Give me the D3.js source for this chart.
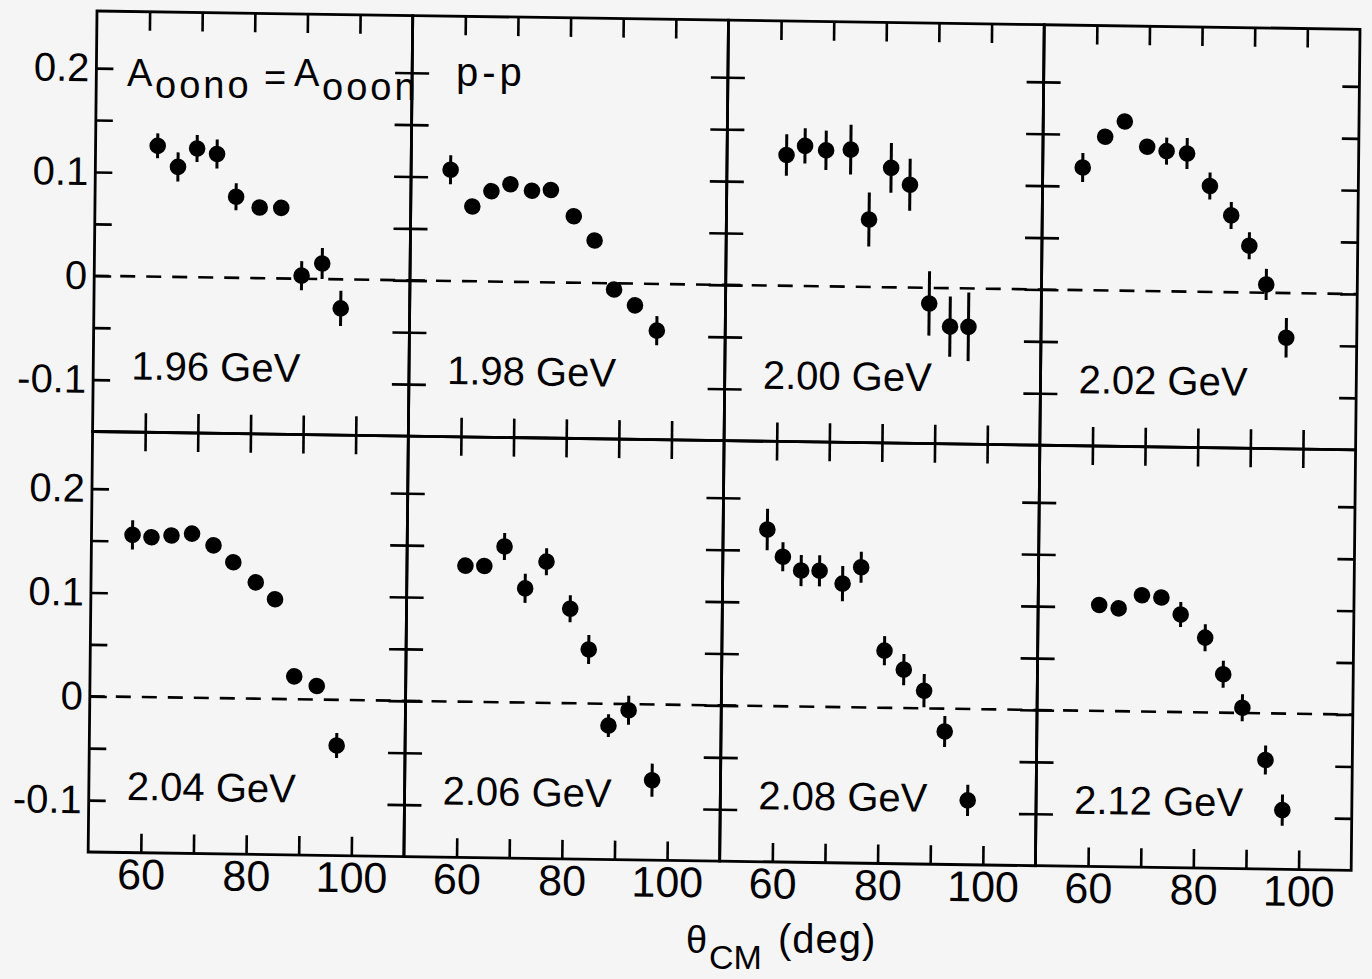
<!DOCTYPE html>
<html><head><meta charset="utf-8">
<script src="https://cdn.jsdelivr.net/npm/d3@7"></script>
<style>
html,body{margin:0;padding:0;background:#f5f5f5;}
svg{display:block;}
text{font-family:"Liberation Sans",Arial,sans-serif;fill:#000;}
</style></head><body>
<svg id="chart" width="1372" height="979"></svg>
<script>
// ---- data ----
const energies = ["1.96 GeV", "1.98 GeV", "2.00 GeV", "2.02 GeV", "2.04 GeV", "2.06 GeV", "2.08 GeV", "2.12 GeV"];

const angles196 = [61.8, 65.7, 69.3, 73.1, 76.8, 81.3, 85.4, 89.4, 93.3, 96.9];
const values196 = [0.126, 0.106, 0.124, 0.119, 0.078, 0.068, 0.068, 0.003, 0.015, -0.028];
const errors196 = [0.012, 0.014, 0.013, 0.014, 0.013, 0.005, 0.005, 0.014, 0.015, 0.017];

const angles198 = [57.5, 61.7, 65.3, 68.9, 73.0, 76.6, 81.0, 85.0, 88.8, 92.8, 97.0];
const values198 = [0.107, 0.072, 0.087, 0.094, 0.088, 0.089, 0.064, 0.041, -0.006, -0.021, -0.045];
const errors198 = [0.014, 0.005, 0.005, 0.005, 0.005, 0.005, 0.005, 0.005, 0.005, 0.005, 0.014];

const angles200 = [61.3, 64.8, 68.8, 73.5, 77.1, 81.2, 84.8, 88.7, 92.7, 96.2];
const values200 = [0.126, 0.135, 0.131, 0.132, 0.065, 0.115, 0.099, -0.015, -0.037, -0.037];
const errors200 = [0.020, 0.017, 0.019, 0.024, 0.026, 0.024, 0.025, 0.031, 0.029, 0.033];

const angles202 = [57.6, 61.8, 65.5, 69.8, 73.5, 77.4, 81.8, 85.9, 89.4, 92.7, 96.6];
const values202 = [0.118, 0.148, 0.163, 0.139, 0.135, 0.133, 0.102, 0.074, 0.045, 0.008, -0.043];
const errors202 = [0.014, 0.005, 0.005, 0.005, 0.013, 0.015, 0.013, 0.013, 0.013, 0.015, 0.019];

const angles204 = [57.8, 61.4, 65.2, 69.1, 73.2, 77.0, 81.3, 85.0, 88.8, 93.1, 97.0];
const values204 = [0.156, 0.154, 0.156, 0.158, 0.147, 0.131, 0.112, 0.096, 0.022, 0.013, -0.044];
const errors204 = [0.014, 0.005, 0.005, 0.005, 0.005, 0.005, 0.005, 0.005, 0.005, 0.005, 0.012];

const angles206 = [61.1, 64.7, 68.5, 72.5, 76.5, 81.1, 84.7, 88.6, 92.4, 97.0];
const values206 = [0.131, 0.131, 0.150, 0.110, 0.136, 0.091, 0.052, -0.021, -0.006, -0.073];
const errors206 = [0.005, 0.005, 0.013, 0.014, 0.013, 0.013, 0.014, 0.011, 0.014, 0.016];

const angles208 = [58.4, 61.4, 64.9, 68.4, 72.8, 76.3, 80.9, 84.6, 88.5, 92.5, 97.0];
const values208 = [0.170, 0.144, 0.131, 0.131, 0.119, 0.135, 0.055, 0.037, 0.017, -0.022, -0.088];
const errors208 = [0.020, 0.014, 0.015, 0.015, 0.017, 0.015, 0.014, 0.015, 0.016, 0.015, 0.015];

const angles212 = [61.6, 65.3, 69.7, 73.4, 77.1, 81.8, 85.3, 89.0, 93.5, 96.8];
const values212 = [0.102, 0.099, 0.112, 0.110, 0.094, 0.072, 0.037, 0.005, -0.045, -0.093];
const errors212 = [0.005, 0.005, 0.005, 0.005, 0.012, 0.013, 0.013, 0.013, 0.014, 0.015];

const xTicks = [60, 70, 80, 90, 100];
const xTickLabels = [60, 80, 100];
const yTicks = [-0.1, -0.05, 0, 0.05, 0.1, 0.15, 0.2];
const yTickLabels = ["-0.1", "0", "0.1", "0.2"];

const panels = [
  {label: energies[0], angle: angles196, value: values196, error: errors196},
  {label: energies[1], angle: angles198, value: values198, error: errors198},
  {label: energies[2], angle: angles200, value: values200, error: errors200},
  {label: energies[3], angle: angles202, value: values202, error: errors202},
  {label: energies[4], angle: angles204, value: values204, error: errors204},
  {label: energies[5], angle: angles206, value: values206, error: errors206},
  {label: energies[6], angle: angles208, value: values208, error: errors208},
  {label: energies[7], angle: angles212, value: values212, error: errors212}
];

// ---- layout ----
const W = 315.75, H = 420.5;
const x = d3.scaleLinear().domain([50, 110]).range([0, W]);
const y = d3.scaleLinear().domain([-0.15, 0.255]).range([H, 0]);

const svg = d3.select("#chart");
svg.append("rect").attr("width", 1372).attr("height", 979).attr("fill", "#f5f5f5");

// slight tilt of the scanned page
const root = svg.append("g").attr("transform", "matrix(1,0.0145,-0.0105,1,97,11)");

const fmtY = v => {
  const s = v === 0 ? "0" : String(Math.round(v * 100) / 100);
  return yTickLabels.includes(s) ? s : "";
};
const fmtX = v => xTickLabels.includes(v) ? String(v) : "";

function styleAxis(sel, fs) {
  sel.select(".domain").remove();
  sel.selectAll("line").attr("stroke", "#000").attr("stroke-width", 2.6);
  sel.attr("font-family", null).attr("font-size", fs);
  sel.selectAll("text").attr("fill", "#000");
}

panels.forEach((p, i) => {
  const c = i % 4, r = Math.floor(i / 4);
  const g = root.append("g").attr("transform", `translate(${c * W},${r * H})`);

  g.append("rect").attr("width", W).attr("height", H)
    .attr("fill", "none").attr("stroke", "#000").attr("stroke-width", 2.8);

  g.append("g")
    .call(d3.axisLeft(y).tickValues(yTicks).tickSize(-17).tickPadding(7).tickFormat(c === 0 ? fmtY : () => ""))
    .call(s => styleAxis(s, 40));
  g.append("g").attr("transform", `translate(${W},0)`)
    .call(d3.axisRight(y).tickValues(yTicks).tickSize(-17).tickFormat(() => ""))
    .call(s => styleAxis(s, 40));
  g.append("g")
    .call(d3.axisTop(x).tickValues(xTicks).tickSize(-19).tickFormat(() => ""))
    .call(s => styleAxis(s, 40));
  g.append("g").attr("transform", `translate(0,${H})`)
    .call(d3.axisBottom(x).tickValues(xTicks).tickSize(-19).tickPadding(6).tickFormat(r === 1 ? fmtX : () => ""))
    .call(s => styleAxis(s, 43));

  // zero line
  g.append("line").attr("x1", 0).attr("x2", W).attr("y1", y(0)).attr("y2", y(0))
    .attr("stroke", "#000").attr("stroke-width", 2.6).attr("stroke-dasharray", "15,11");

  // energy label
  g.append("text").attr("x", 38).attr("y", 368).attr("font-size", 40).text(p.label);

  const pts = p.angle.map((a, k) => ({a, v: p.value[k], e: p.error[k]}));
  g.selectAll(".err").data(pts).join("line").attr("class", "err")
    .attr("x1", d => x(d.a)).attr("x2", d => x(d.a))
    .attr("y1", d => y(d.v - d.e)).attr("y2", d => y(d.v + d.e))
    .attr("stroke", "#000").attr("stroke-width", 3);
  g.selectAll(".pt").data(pts).join("circle").attr("class", "pt")
    .attr("cx", d => x(d.a)).attr("cy", d => y(d.v)).attr("r", 8.3).attr("fill", "#000");
});

// title inside first panel
const t = svg.append("g");
t.append("text").attr("x", 127).attr("y", 86).attr("font-size", 38).text("A");
t.append("text").attr("x", 155).attr("y", 98).attr("font-size", 38).attr("letter-spacing", 3).text("oono");
t.append("text").attr("x", 264).attr("y", 91).attr("font-size", 38).text("=");
t.append("text").attr("x", 294).attr("y", 86).attr("font-size", 38).text("A");
t.append("text").attr("x", 322).attr("y", 100).attr("font-size", 38).attr("letter-spacing", 3).text("ooon");
t.append("text").attr("x", 456).attr("y", 86).attr("font-size", 40).attr("letter-spacing", 4).text("p-p");

// x-axis title
const xt = svg.append("g");
xt.append("text").attr("x", 686).attr("y", 953).attr("font-size", 38).text("θ");
xt.append("text").attr("x", 709).attr("y", 969).attr("font-size", 34).text("CM");
xt.append("text").attr("x", 778).attr("y", 953).attr("font-size", 40).attr("letter-spacing", 1).text("(deg)");
</script>
</body></html>
